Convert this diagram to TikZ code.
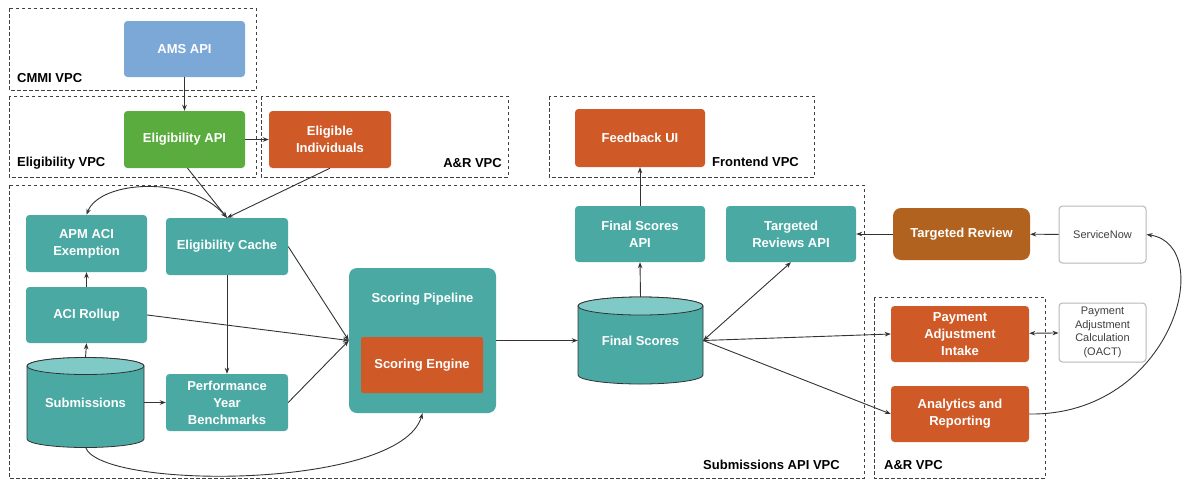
\documentclass[tikz,border=0pt]{standalone}
\usepackage{fontspec}
\setmainfont{Liberation Sans}
\usetikzlibrary{arrows.meta}
\definecolor{tealc}{HTML}{4BA9A4}
\definecolor{tealtop}{HTML}{7FCAC6}
\definecolor{orangec}{HTML}{CF5A28}
\definecolor{greenc}{HTML}{5BAC3F}
\definecolor{bluec}{HTML}{7CA8D8}
\definecolor{brownc}{HTML}{B1621F}
\definecolor{linec}{HTML}{333333}
\tikzset{
  box/.style={rounded corners=3.5pt, text=white, font=\bfseries\fontsize{13}{17}\selectfont, align=center, inner sep=0pt},
  wbox/.style={rounded corners=3.5pt, draw=black!28, line width=1pt, fill=white, text=black!75, font=\fontsize{11}{13.5}\selectfont, align=center, inner sep=0pt},
  region/.style={draw=black!75, dashed, dash pattern=on 3.5pt off 2.5pt, line width=0.9pt},
  vpc/.style={font=\bfseries\fontsize{13}{15}\selectfont, inner sep=0pt},
  conn/.style={draw=linec, line width=0.9pt, -{Stealth[length=6pt,width=4.5pt]}},
  dconn/.style={draw=linec, line width=0.9pt, {Stealth[length=6pt,width=4.5pt]}-{Stealth[length=6pt,width=4.5pt]}},
  cylbody/.style={fill=tealc, draw=black!80, line width=0.8pt},
}
\begin{document}
\begin{tikzpicture}[x=1pt,y=-1pt]
\useasboundingbox (0,0) rectangle (1183,480);
% regions
\draw[region] (9,8) rectangle (256,90);
\draw[region] (9,96) rectangle (256,177);
\draw[region] (261,96) rectangle (508,177);
\draw[region] (549,96) rectangle (814,177);
\draw[region] (9,185) rectangle (864,478);
\draw[region] (874,297) rectangle (1045,478);
\node[vpc, anchor=west] (lcmmi) at (17,78) {CMMI VPC};
\node[vpc, anchor=west] (lelig) at (17,163) {Eligibility VPC};
\node[vpc, anchor=east] (lar1) at (502,163) {A\&R VPC};
\node[vpc, anchor=west] (lfront) at (712,162) {Frontend VPC};
\node[vpc, anchor=west] (lsub) at (703,465) {Submissions API VPC};
\node[vpc, anchor=west] (lar2) at (884,465) {A\&R VPC};
% boxes
\node[box, fill=bluec, minimum width=121, minimum height=56] (ams) at (184.5,49) {AMS API};
\node[box, fill=greenc, minimum width=121, minimum height=57] (eapi) at (184.5,139.5) {Eligibility API};
\node[box, fill=orangec, minimum width=122, minimum height=57] (eind) at (330,139.5) {Eligible\\Individuals};
\node[box, fill=orangec, minimum width=130, minimum height=58] (fbui) at (640,138) {Feedback UI};
\node[box, fill=tealc, minimum width=121, minimum height=57] (apm) at (86.5,243.5) {APM ACI\\Exemption};
\node[box, fill=tealc, minimum width=122, minimum height=57] (cache) at (227,246.5) {Eligibility Cache};
\node[box, fill=tealc, minimum width=121, minimum height=56] (roll) at (86.5,315) {ACI Rollup};
\node[box, fill=tealc, minimum width=122, minimum height=57] (pyb) at (227,402.5) {Performance\\Year\\Benchmarks};
\node[box, fill=tealc, rounded corners=8pt, minimum width=147, minimum height=145] (pipe) at (422.5,340.5) {};
\node[box] (pipelbl) at (422.5,299) {Scoring Pipeline};
\node[box, fill=orangec, rounded corners=2pt, minimum width=122, minimum height=56] (eng) at (422,365) {Scoring Engine};
\node[box, fill=tealc, minimum width=130, minimum height=56] (fsapi) at (640,234) {Final Scores\\API};
\node[box, fill=tealc, minimum width=130, minimum height=56] (trapi) at (791,234) {Targeted\\Reviews API};
\node[box, fill=brownc, rounded corners=8pt, minimum width=137, minimum height=52] (tr) at (961.5,234) {Targeted Review};
\node[wbox, minimum width=87, minimum height=57] (snow) at (1102.5,234.5) {ServiceNow};
\node[box, fill=orangec, minimum width=138, minimum height=56] (pai) at (960,334) {Payment\\Adjustment\\Intake};
\node[wbox, minimum width=87, minimum height=59] (pac) at (1102.5,332.5) {Payment\\Adjustment\\Calculation\\(OACT)};
\node[box, fill=orangec, minimum width=138, minimum height=56] (ana) at (960,414) {Analytics and\\Reporting};
% cylinders
\path[cylbody] (27,366) -- (27,439) arc[start angle=180, end angle=0, x radius=58.5, y radius=8.5] -- (144,366) arc[start angle=0, end angle=-180, x radius=58.5, y radius=8.5] -- cycle;
\path[fill=tealtop, draw=black!80, line width=0.8pt] (85.5,366) ellipse[x radius=58.5, y radius=8.5];
\node[box, minimum width=117, minimum height=89] (subm) at (85.5,402.5) {Submissions};
\path[cylbody] (578,306) -- (578,375) arc[start angle=180, end angle=0, x radius=62.5, y radius=9] -- (703,306) arc[start angle=0, end angle=-180, x radius=62.5, y radius=9] -- cycle;
\path[fill=tealtop, draw=black!80, line width=0.8pt] (640.5,306) ellipse[x radius=62.5, y radius=9];
\node[box, minimum width=125, minimum height=87] (fs) at (640.5,340.5) {Final Scores};
% connectors
\draw[conn] (ams) -- (eapi);
\draw[conn] (eapi) -- (eind);
\draw[conn] ([xshift=3pt]eapi.south) -- (cache.north);
\draw[conn] (eind.south) -- (cache.north);
\draw[dconn] (apm.north) .. controls (100,180) and (190,175) .. (cache.north);
\draw[conn] (roll) -- (apm);
\draw[conn] (subm.north) -- (roll.south);
\draw[conn] (subm.east) -- (pyb.west);
\draw[conn] (cache) -- (pyb);
\draw[conn] (cache.east) -- (pipe.west);
\draw[conn] (roll.east) -- (pipe.west);
\draw[conn] (pyb.east) -- (pipe.west);
\draw[conn] (subm.south) .. controls (100,490) and (400,490) .. (pipe.south);
\draw[conn] (pipe.east) -- (fs.west);
\draw[conn] (fs.north) -- (fsapi.south);
\draw[conn] (fsapi) -- (fbui);
\draw[dconn] (fs.east) -- (trapi.south);
\draw[conn] (fs.east) -- (pai.west);
\draw[conn] (fs.east) -- (ana.west);
\draw[conn] (tr) -- (trapi);
\draw[conn] (snow) -- (tr);
\draw[dconn] (pai) -- (pac);
\draw[conn] (ana.east) .. controls (1172,416) and (1218,245) .. (snow.east);
\end{tikzpicture}
\end{document}
